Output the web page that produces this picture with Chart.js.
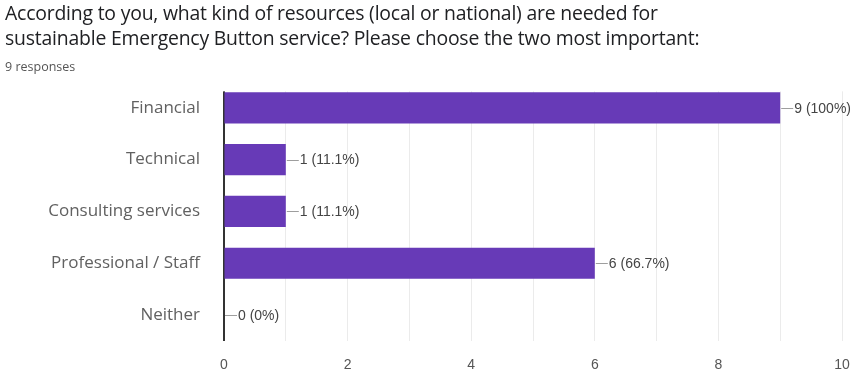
<!DOCTYPE html>
<html>
<head>
<meta charset="utf-8">
<script src="https://cdn.jsdelivr.net/npm/chart.js@4/dist/chart.umd.min.js"></script>
<style>
  html, body { margin: 0; padding: 0; background: #fff; }
  #wrap { position: relative; width: 860px; height: 375px; overflow: hidden; }
  #title { position: absolute; left: 5px; top: 0px; font-family: "Open Sans", sans-serif; font-size: 19.4px; line-height: 25px; color: #202124; letter-spacing: -0.2px; }
  #sub { position: absolute; left: 5px; top: 58px; font-family: "Open Sans", sans-serif; font-size: 12.5px; color: #555; }
  canvas { position: absolute; left: 0; top: 0; }
</style>
</head>
<body>
<div id="wrap">
  <canvas id="c" width="860" height="375"></canvas>
  <div id="title">According to you, what kind of resources (local or national) are needed for<br>sustainable Emergency Button service? Please choose the two most important:</div>
  <div id="sub">9 responses</div>
</div>
<script>
const categories = ["Financial", "Technical", "Consulting services", "Professional / Staff", "Neither"];
const counts = [9, 1, 1, 6, 0];
const totalResponses = 9;
const xTicks = [0, 2, 4, 6, 8, 10];

const topMask = {
  id: 'topMask',
  beforeDatasetsDraw(chart) {
    const ctx = chart.ctx;
    const a = chart.chartArea;
    const first = chart.getDatasetMeta(0).data[0];
    const barTop = first.y - first.height / 2;
    ctx.save();
    ctx.fillStyle = '#fff';
    ctx.fillRect(a.left - 3, a.top - 1, a.right - a.left + 5, barTop - a.top);
    ctx.restore();
  }
};

const barLabels = {
  id: 'barLabels',
  afterDatasetsDraw(chart) {
    const ctx = chart.ctx;
    const meta = chart.getDatasetMeta(0);
    ctx.save();
    ctx.font = '14px "Liberation Sans", Arial, sans-serif';
    ctx.textBaseline = 'middle';
    meta.data.forEach((bar, i) => {
      const v = counts[i];
      const pct = Math.round(v / totalResponses * 1000) / 10;
      const txt = v + ' (' + pct + '%)';
      const x = bar.x + 1, y = bar.y;
      ctx.strokeStyle = '#9e9e9e';
      ctx.lineWidth = 1;
      ctx.beginPath();
      ctx.moveTo(x, Math.round(y) + 0.5);
      ctx.lineTo(x + 12, Math.round(y) + 0.5);
      ctx.stroke();
      ctx.fillStyle = '#444';
      ctx.fillText(txt, x + 13, y + 1);
    });
    ctx.restore();
  }
};

new Chart(document.getElementById('c'), {
  type: 'bar',
  data: {
    labels: categories,
    datasets: [{
      data: counts,
      backgroundColor: '#673ab7',
      borderWidth: 0,
      categoryPercentage: 1.0,
      barPercentage: 0.6
    }]
  },
  options: {
    indexAxis: 'y',
    responsive: false,
    animation: false,
    layout: { padding: { top: 82, right: 18, bottom: 0, left: 0 } },
    plugins: { legend: { display: false }, tooltip: { enabled: false } },
    scales: {
      x: {
        min: 0, max: 10,
        ticks: {
          stepSize: 1,
          autoSkip: false,
          maxRotation: 0,
          padding: 16,
          color: '#555',
          font: { family: '"Liberation Sans", Arial, sans-serif', size: 14 },
          callback: (v) => xTicks.includes(v) ? String(v) : ''
        },
        grid: { color: '#ebebeb', drawTicks: false },
        border: { display: false },
        afterFit: (s) => { s.height = 29; s.paddingRight = 0; s.paddingLeft = 0; }
      },
      y: {
        ticks: {
          padding: 24,
          color: '#616161',
          font: { family: '"Open Sans", sans-serif', size: 17 }
        },
        grid: { display: false, drawTicks: false },
        border: { display: true, color: '#333', width: 2 },
        afterFit: (s) => { s.width = 224; }
      }
    }
  },
  plugins: [topMask, barLabels]
});
</script>
</body>
</html>
